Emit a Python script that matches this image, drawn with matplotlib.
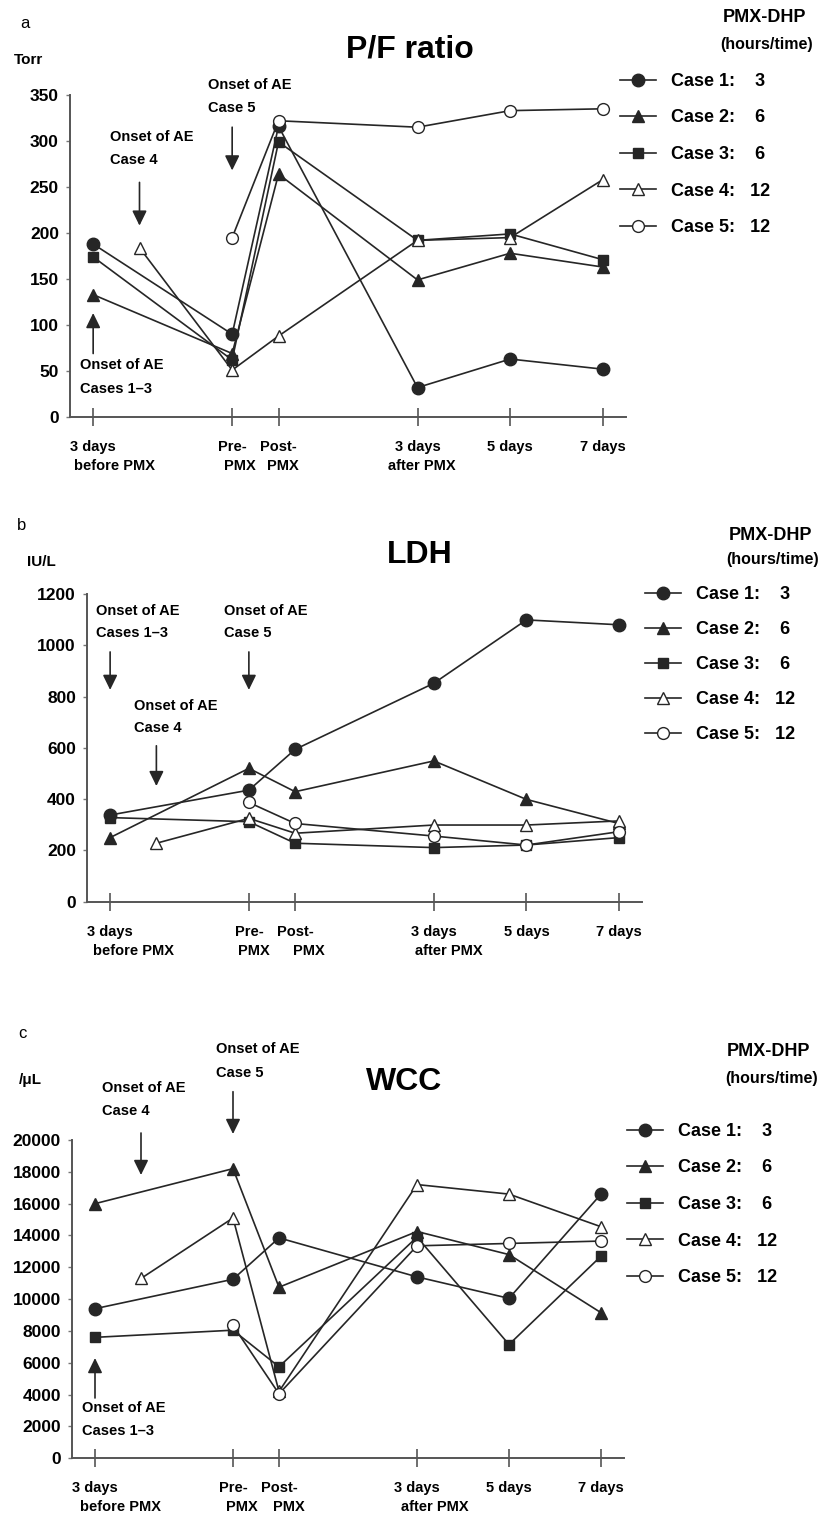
import matplotlib
matplotlib.use("Agg")
import matplotlib.pyplot as plt

plt.rcParams['font.family'] = ['Liberation Sans', 'DejaVu Sans']
plt.rcParams['font.weight'] = 'bold'

W, H = 831, 1518

# time axis in days relative to start of PMX (post-PMX drawn one day later)
t_days = [-3, 0, 1, 4, 6, 8]
t_case4 = [-2, 0, 1, 4, 6, 8]
t_case5 = [0, 1, 4, 6, 8]
tick_top = ["3 days", "Pre-", "Post-", "3 days", "5 days", "7 days"]
tick_bottom = ["before PMX", "PMX", "PMX", "after PMX"]
case_x = [t_days, t_days, t_days, t_case4, t_case5]
pmx_hours = [3, 6, 6, 12, 12]

# P/F ratio (Torr)
pf_case1 = [188, 90, 316, 32, 63, 52]
pf_case2 = [133, 69, 264, 149, 178, 163]
pf_case3 = [174, 62, 299, 192, 199, 171]
pf_case4 = [184, 51, 88, 192, 195, 258]
pf_case5 = [195, 322, 315, 333, 335]

# LDH (IU/L)
ldh_case1 = [338, 435, 594, 852, 1099, 1080]
ldh_case2 = [250, 520, 429, 549, 399, 305]
ldh_case3 = [328, 312, 228, 211, 221, 250]
ldh_case4 = [228, 325, 267, 299, 299, 315]
ldh_case5 = [387, 305, 256, 221, 273]

# WCC (/uL)
wcc_case1 = [9400, 11250, 13850, 11400, 10050, 16600]
wcc_case2 = [16000, 18200, 10750, 14250, 12800, 9150]
wcc_case3 = [7600, 8050, 5750, 13900, 7150, 12700]
wcc_case4 = [11300, 15100, 4200, 17200, 16600, 14550]
wcc_case5 = [8350, 4050, 13350, 13500, 13650]

# onset of AE arrows: (x, arrow tail, arrow tip, text x, line1 y, line2 y, label)
pf_onset = [(-3, 69, 113, -3.28, 56, 30, "Cases 1\u20133"),
            (-2, 255, 208, -2.64, 304, 279, "Case 4"),
            (0, 315, 268, -0.52, 361, 336, "Case 5")]
ldh_onset = [(-3, 974, 826, -3.30, 1134, 1048, "Cases 1\u20133"),
             (-2, 608, 451, -2.48, 763, 678, "Case 4"),
             (0, 974, 826, -0.54, 1134, 1048, "Case 5")]
wcc_onset = [(-3, 3790, 6300, -3.28, 3180, 1715, "Cases 1\u20133"),
             (-2, 20440, 17800, -2.85, 23267, 21822, "Case 4"),
             (0, 23035, 20377, -0.37, 25720, 24230, "Case 5")]

ink = '#262626'
markers = ['o', '^', 's', '^', 'o']
filled = [True, True, True, False, False]
msizes = [9, 9, 7.5, 9, 8.5]

fig = plt.figure(figsize=(W / 100, H / 100), dpi=100)


def make_axes(left, right, top, bottom):
    return fig.add_axes([left / W, 1 - bottom / H, (right - left) / W, (bottom - top) / H])


def fig_text(x, y, s, **kw):
    fig.text(x / W, 1 - y / H, s, **kw)


def draw_panel(ax, values, ymax, ystep, onsets, second_dx, legend_xy, spacing=1.08):
    for i, ys in enumerate(values):
        sp = "    " if pmx_hours[i] < 10 else "   "
        ax.plot(case_x[i], ys, color=ink, lw=1.2, marker=markers[i], ms=msizes[i],
                mfc=ink if filled[i] else 'white', mec=ink, mew=1.0,
                label="Case %d:%s%d" % (i + 1, sp, pmx_hours[i]), clip_on=False, zorder=3)
    ax.set_xlim(-3.5, 8.5)
    ax.set_ylim(0, ymax)
    ax.set_yticks(range(0, ymax + 1, ystep))
    ax.set_xticks(t_days, tick_top)
    for s in ['top', 'right']:
        ax.spines[s].set_visible(False)
    for s in ['left', 'bottom']:
        ax.spines[s].set_color('#555555')
        ax.spines[s].set_linewidth(1.4)
    ax.tick_params(axis='y', length=3, width=1, color='#777777', pad=5, labelsize=12.5)
    ax.tick_params(axis='x', direction='inout', length=13, width=1.2, color='#555555',
                   pad=10, labelsize=10.5)
    for x, lab, dx in zip(t_days, tick_bottom, second_dx):
        ax.annotate(lab, xy=(x, 0), xycoords=('data', 'axes fraction'),
                    xytext=(dx, -49), textcoords='offset pixels',
                    ha='center', va='center', fontsize=10.5, annotation_clip=False)
    for x, tail, tip, tx, y1, y2, lab in onsets:
        ax.annotate('', xy=(x, tip), xytext=(x, tail),
                    arrowprops=dict(arrowstyle='-|>,head_width=0.22,head_length=0.45',
                                    mutation_scale=20, color=ink, lw=1.2,
                                    shrinkA=0, shrinkB=0),
                    annotation_clip=False)
        ax.text(tx, y1, "Onset of AE", ha='left', va='center', fontsize=10.5, clip_on=False)
        ax.text(tx, y2, lab, ha='left', va='center', fontsize=10.5, clip_on=False)
    ax.legend(loc='upper left', bbox_to_anchor=(legend_xy[0] / W, 1 - legend_xy[1] / H),
              bbox_transform=fig.transFigure, frameon=False, fontsize=13,
              handlelength=2.0, handletextpad=0.8, labelspacing=spacing,
              borderpad=0, borderaxespad=0)


# panel a
ax_a = make_axes(70, 626, 95, 417)
draw_panel(ax_a, [pf_case1, pf_case2, pf_case3, pf_case4, pf_case5], 350, 50,
           pf_onset, [21, 8, 4, 4], (620, 73))
fig_text(25, 23, "a", fontsize=12, weight='normal', ha='center', va='center')
fig_text(29, 60, "Torr", fontsize=11, ha='center', va='center')
fig_text(410, 50, "P/F ratio", fontsize=23, ha='center', va='center')
fig_text(765, 18, "PMX-DHP", fontsize=13, ha='center', va='center')
fig_text(767, 45, "(hours/time)", fontsize=11.5, ha='center', va='center')

# panel b
ax_b = make_axes(87, 642, 594, 901.7)
draw_panel(ax_b, [ldh_case1, ldh_case2, ldh_case3, ldh_case4, ldh_case5], 1200, 200,
           ldh_onset, [23, 5, 14, 15], (645, 586), spacing=1.0)
fig_text(22, 525, "b", fontsize=12, weight='normal', ha='center', va='center')
fig_text(41, 562, "IU/L", fontsize=11, ha='center', va='center')
fig_text(420, 555, "LDH", fontsize=23, ha='center', va='center')
fig_text(770, 535, "PMX-DHP", fontsize=13, ha='center', va='center')
fig_text(773, 560, "(hours/time)", fontsize=11.5, ha='center', va='center')

# panel c
ax_c = make_axes(72, 624, 1140, 1458.3)
draw_panel(ax_c, [wcc_case1, wcc_case2, wcc_case3, wcc_case4, wcc_case5], 20000, 2000,
           wcc_onset, [26, 9, 10, 18], (627, 1123))
fig_text(22, 1034, "c", fontsize=12, weight='normal', ha='center', va='center')
fig_text(30, 1080, "/\u03bcL", fontsize=11, ha='center', va='center')
fig_text(404, 1082, "WCC", fontsize=23, ha='center', va='center')
fig_text(768, 1052, "PMX-DHP", fontsize=13, ha='center', va='center')
fig_text(772, 1078, "(hours/time)", fontsize=11.5, ha='center', va='center')

fig.savefig("out.png", dpi=100)
